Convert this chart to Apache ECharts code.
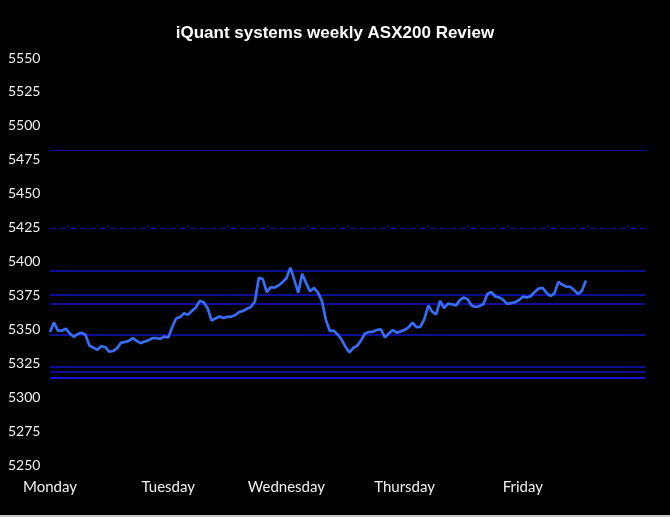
<!DOCTYPE html>
<html>
<head>
<meta charset="utf-8">
<script src="https://cdn.jsdelivr.net/npm/echarts@6/dist/echarts.min.js"></script>
<style>
  html, body { margin: 0; padding: 0; background: #000; }
  #chart { width: 670px; height: 515px; border-bottom: 2px solid #c8c8c8; }
</style>
</head>
<body>
<div id="chart"></div>
<script>
const titleText = 'iQuant systems weekly ASX200 Review';
const days = ['Monday', 'Tuesday', 'Wednesday', 'Thursday', 'Friday'];
const slotsPerDay = 30;
const totalSlots = 152;
const yTicks = { min: 5250, max: 5550, interval: 25 };

// ASX200 price, sampled ~30 points per trading day
const prices = [
  5348, 5355, 5349, 5349, 5350.5, 5347, 5344.5, 5346.5, 5347.5, 5346,
  5338, 5336.5, 5335, 5337.5, 5337, 5333.5, 5334, 5336, 5340, 5340.7,
  5341.5, 5343.5, 5341.5, 5339.8, 5341, 5342, 5343.5, 5343.5, 5343, 5344.6,
  5344, 5351.5, 5358, 5359, 5361.9, 5360.8, 5363.5, 5366, 5371, 5370,
  5365.6, 5356.5, 5358, 5359.4, 5358.3, 5359.2, 5359.4, 5360.4, 5362.8, 5363.6,
  5365.2, 5366.5, 5370.5, 5388, 5387, 5377.5, 5381, 5380.8, 5382.3, 5384.7,
  5387.6, 5395.5, 5386.5, 5377, 5391, 5384, 5378, 5380.5, 5377, 5371,
  5357, 5348.8, 5349, 5346.2, 5342.5, 5337, 5333, 5336.4, 5338, 5342.2,
  5347.1, 5348, 5348.3, 5349.6, 5350, 5344, 5347, 5349.5, 5347.5, 5348.5,
  5349.6, 5351.5, 5355, 5351.7, 5351.8, 5357.5, 5367.5, 5363, 5361, 5371,
  5365.7, 5369, 5368.5, 5367.5, 5371.5, 5373.5, 5372.2, 5367.5, 5366.5, 5367.1,
  5368.7, 5376, 5377.5, 5374.2, 5373.5, 5371.7, 5368.8, 5369.3, 5370, 5371.5,
  5374, 5373.5, 5374.4, 5377.5, 5380, 5380.5, 5377, 5374.5, 5376.5, 5385,
  5383, 5381.5, 5381.4, 5379, 5376, 5378.5, 5386
];

// Horizontal reference levels
const solidLevels = [5482, 5393.3, 5375.3, 5368.7, 5346, 5322.5, 5318.4];
const dashedLevels = [5424.5];
const heavyLevels = [5314];

const categories = Array.from({ length: totalSlots }, (_, i) => {
  const d = Math.floor(i / slotsPerDay);
  return (days[d] || 'Saturday') + ' ' + (i % slotsPerDay);
});

const markData = []
  .concat(solidLevels.map(v => ({ yAxis: v, lineStyle: { type: 'solid', width: v > 5450 ? 1.2 : 1.6, color: v > 5450 ? '#0a0aa8' : '#1212c8' } })))
  .concat(dashedLevels.map(v => ({ yAxis: v, lineStyle: { type: [6, 4], width: 1.2, color: '#0a0ab0' } })))
  .concat(heavyLevels.map(v => ({ yAxis: v, lineStyle: { type: 'solid', width: 2.2, color: '#1515d8' } })));

const chart = echarts.init(document.getElementById('chart'));
chart.setOption({
  backgroundColor: '#000',
  animation: false,
  title: {
    text: titleText,
    left: 'center',
    top: 20,
    textStyle: { color: '#ffffff', fontSize: 17, fontWeight: 'bold', fontFamily: 'Liberation Sans' }
  },
  grid: { left: 50, right: 25, top: 58, bottom: 50 },
  xAxis: {
    type: 'category',
    data: categories,
    boundaryGap: false,
    axisLine: { show: false },
    axisTick: { show: false },
    splitLine: { show: false },
    axisLabel: {
      color: '#f0f0f0',
      fontSize: 15,
      fontFamily: 'Lato',
      margin: 15,
      interval: (index) => index % slotsPerDay === 0 && index < days.length * slotsPerDay,
      formatter: (value) => value.split(' ')[0]
    }
  },
  yAxis: {
    type: 'value',
    min: yTicks.min,
    max: yTicks.max,
    interval: yTicks.interval,
    axisLine: { show: false },
    axisTick: { show: false },
    splitLine: { show: false },
    axisLabel: {
      color: '#f0f0f0',
      fontSize: 14,
      fontFamily: 'Lato',
      align: 'left',
      margin: 42,
      formatter: (v) => String(v)
    }
  },
  series: [{
    type: 'line',
    data: prices,
    showSymbol: false,
    smooth: false,
    lineStyle: { color: '#3a6df5', width: 2.7 },
    itemStyle: { color: '#3a6df5' },
    z: 3,
    markLine: {
      silent: true,
      symbol: ['none', 'none'],
      label: { show: false },
      z: 2,
      data: markData
    }
  }]
});
</script>
</body>
</html>
